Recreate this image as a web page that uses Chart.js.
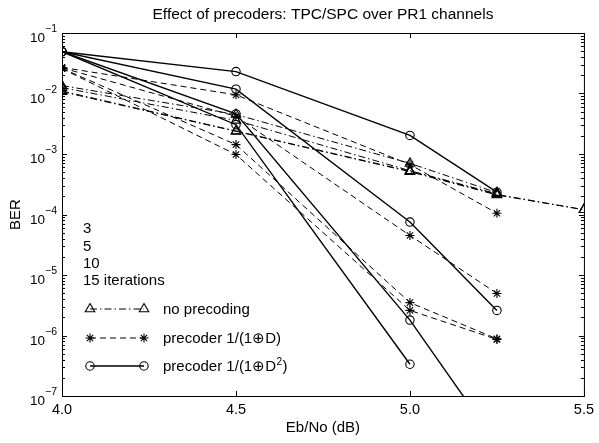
<!DOCTYPE html>
<html>
<head>
<meta charset="utf-8">
<script src="https://cdn.jsdelivr.net/npm/chart.js@4.4.1/dist/chart.umd.min.js"></script>
<style>
  body { margin: 0; background: #fff; }
  #wrap { width: 599px; height: 443px; }
</style>
</head>
<body>
<div id="wrap"><canvas id="myChart" width="599" height="443"></canvas></div>
<script>
// Eb/No points (dB) and axis ticks
let ebno = [4, 4.5, 5, 5.25, 5.5];
let xTicks = [4, 4.5, 5, 5.5];
let yDecades = [1e-7, 1e-6, 1e-5, 1e-4, 1e-3, 1e-2, 1e-1];
let iterations = ['3', '5', '10', '15 iterations'];

// BER, no precoding (3, 5, 10, 15 iterations)
let noPre3  = [0.0135, 0.0045, 7.0e-4, 2.3e-4, null];
let noPre5  = [0.0125, 0.0036, 5.3e-4, 2.2e-4, null];
let noPre10 = [0.011, 0.0024, 5.2e-4, 2.15e-4, 1.2e-4];
let noPre15 = [0.0107, 0.00237, 5.1e-4, 2.1e-4, 1.2e-4];

// BER, precoder 1/(1+D)
let preD3  = [0.027, 0.0095, 6.7e-4, 1.05e-4, null];
let preD5  = [0.0265, 0.0042, 4.5e-5, 4.95e-6, null];
let preD10 = [0.026, 0.00143, 3.5e-6, 8.8e-7, null];
let preD15 = [0.0258, 0.00098, 2.6e-6, 8.6e-7, null];

// BER, precoder 1/(1+D^2)
let preD2_3  = [0.049, 0.023, 0.00203, 2.34e-4, null];
let preD2_5  = [0.049, 0.0118, 7.5e-5, 2.6e-6, null];
let preD2_10 = [0.049, 0.0046, 1.8e-6, 1.6e-8, null];
let preD2_15 = [0.049, 0.00305, 3.35e-7, null, null];

let font = "'Liberation Sans', Arial, sans-serif";
let title = 'Effect of precoders: TPC/SPC over PR1 channels';

let styles = {
  tri:  { pointStyle: 'triangle', radius: 5.5, dash: [7, 3, 1.5, 3] },
  star: { pointStyle: 'star', radius: 4.5, dash: [6, 4] },
  circ: { pointStyle: 'circle', radius: 4.2, dash: [] }
};

function points(vals) {
  return ebno.map((x, i) => ({ x: x, y: vals[i] })).filter(p => p.y != null);
}

function series(label, vals, st) {
  return {
    label: label,
    data: points(vals),
    borderColor: '#000',
    borderWidth: st === styles.circ ? 1.4 : 1,
    borderDash: st.dash,
    pointStyle: st.pointStyle,
    pointRadius: st.radius,
    pointBorderWidth: 1.1,
    pointBorderColor: '#000',
    pointBackgroundColor: 'rgba(0,0,0,0)',
    fill: false,
    tension: 0
  };
}

let datasets = [
  series('no precoding 3', noPre3, styles.tri),
  series('no precoding 5', noPre5, styles.tri),
  series('no precoding 10', noPre10, styles.tri),
  series('no precoding 15', noPre15, styles.tri),
  series('1/(1+D) 3', preD3, styles.star),
  series('1/(1+D) 5', preD5, styles.star),
  series('1/(1+D) 10', preD10, styles.star),
  series('1/(1+D) 15', preD15, styles.star),
  series('1/(1+D2) 3', preD2_3, styles.circ),
  series('1/(1+D2) 5', preD2_5, styles.circ),
  series('1/(1+D2) 10', preD2_10, styles.circ),
  series('1/(1+D2) 15', preD2_15, styles.circ)
];

// title, frame, inward ticks, superscript tick labels and the in-plot legend
let decorations = {
  id: 'decorations',
  afterDraw(chart) {
    let c = chart.ctx;
    let a = chart.chartArea;
    let xs = chart.scales.x;
    let ys = chart.scales.y;
    c.save();
    c.strokeStyle = '#000';
    c.fillStyle = '#000';
    c.lineWidth = 1;
    c.setLineDash([]);

    c.font = '15.5px ' + font;
    c.textAlign = 'center';
    c.textBaseline = 'alphabetic';
    c.fillText(title, (a.left + a.right) / 2, 18.5);

    c.strokeRect(a.left + 0.5, a.top + 0.5, a.right - a.left, a.bottom - a.top);

    c.beginPath();
    xTicks.forEach(v => {
      let px = Math.round(xs.getPixelForValue(v)) + 0.5;
      c.moveTo(px, a.bottom); c.lineTo(px, a.bottom - 5);
      c.moveTo(px, a.top); c.lineTo(px, a.top + 5);
    });
    yDecades.forEach((d, i) => {
      let py = Math.round(ys.getPixelForValue(d)) + 0.5;
      c.moveTo(a.left, py); c.lineTo(a.left + 5, py);
      c.moveTo(a.right, py); c.lineTo(a.right - 5, py);
      if (i < yDecades.length - 1) {
        for (let k = 2; k <= 9; k++) {
          let my = Math.round(ys.getPixelForValue(k * d)) + 0.5;
          c.moveTo(a.left, my); c.lineTo(a.left + 3, my);
          c.moveTo(a.right, my); c.lineTo(a.right - 3, my);
        }
      }
    });
    c.stroke();

    // y tick labels 10^n
    c.textAlign = 'left';
    yDecades.forEach(d => {
      let py = ys.getPixelForValue(d);
      let ex = '\u2212' + Math.round(-Math.log10(d));
      c.font = '10.5px ' + font;
      let we = c.measureText(ex).width;
      c.font = '13.5px ' + font;
      let wb = c.measureText('10').width;
      let x0 = a.left - 5 - we - wb;
      c.fillText('10', x0, py + 9);
      c.font = '10.5px ' + font;
      c.fillText(ex, x0 + wb, py - 1);
    });

    // iteration labels
    c.font = '15px ' + font;
    let base = [233, 250.5, 268, 285];
    iterations.forEach((t, i) => c.fillText(t, 83, base[i]));

    // legend rows
    let rows = [
      { st: styles.tri, y: 309, text: 'no precoding', sup: null },
      { st: styles.star, y: 338, text: 'precoder 1/(1\u2295D)', sup: null },
      { st: styles.circ, y: 366, text: 'precoder 1/(1\u2295D', sup: '2' }
    ];
    rows.forEach(r => {
      c.save();
      c.lineWidth = r.st === styles.circ ? 1.4 : 1;
      c.setLineDash(r.st.dash);
      c.beginPath();
      c.moveTo(90, r.y); c.lineTo(144, r.y);
      c.stroke();
      c.restore();
      [90, 144].forEach(px => {
        c.save();
        c.lineWidth = 1.1;
        c.setLineDash([]);
        c.strokeStyle = '#000';
        c.fillStyle = 'rgba(0,0,0,0)';
        Chart.helpers.drawPoint(c, { pointStyle: r.st.pointStyle, radius: r.st.radius, rotation: 0, borderWidth: 1.1 }, px, r.y);
        c.restore();
      });
      c.font = '15px ' + font;
      c.fillStyle = '#000';
      c.fillText(r.text, 163, r.y + 5);
      if (r.sup) {
        let w = c.measureText(r.text).width;
        c.font = '10px ' + font;
        c.fillText(r.sup, 163 + w + 0.5, r.y - 1.5);
        let ws = c.measureText(r.sup).width;
        c.font = '15px ' + font;
        c.fillText(')', 163 + w + ws + 1, r.y + 5);
      }
    });
    c.restore();
  }
};

let myChart = new Chart(document.getElementById('myChart').getContext('2d'), {
  type: 'line',
  data: { datasets: datasets },
  options: {
    responsive: false,
    animation: false,
    events: [],
    layout: { padding: { left: 0, right: 12, top: 33, bottom: 0 } },
    plugins: {
      legend: { display: false },
      tooltip: { enabled: false },
      title: { display: false }
    },
    scales: {
      x: {
        type: 'linear',
        min: 4,
        max: 5.5,
        afterBuildTicks: (scale) => { scale.ticks = xTicks.map(v => ({ value: v })); },
        afterFit: (scale) => { scale.height = 47; },
        grid: { display: false, drawTicks: false },
        border: { display: false },
        ticks: { color: '#000', font: { family: font, size: 14.5 }, padding: 5, maxRotation: 0 },
        title: {
          display: true, text: 'Eb/No (dB)', color: '#000',
          font: { family: font, size: 15 }, padding: { top: 0, bottom: 6 }
        }
      },
      y: {
        type: 'logarithmic',
        min: 1e-7,
        max: 1e-1,
        afterBuildTicks: (scale) => { scale.ticks = yDecades.map(v => ({ value: v })); },
        afterFit: (scale) => { scale.width = 62; },
        grid: { display: false, drawTicks: false },
        border: { display: false },
        ticks: { display: false },
        title: {
          display: true, text: 'BER', color: '#000',
          font: { family: font, size: 15 }, padding: { top: 7, bottom: 0 }
        }
      }
    }
  },
  plugins: [decorations]
});
</script>
</body>
</html>
